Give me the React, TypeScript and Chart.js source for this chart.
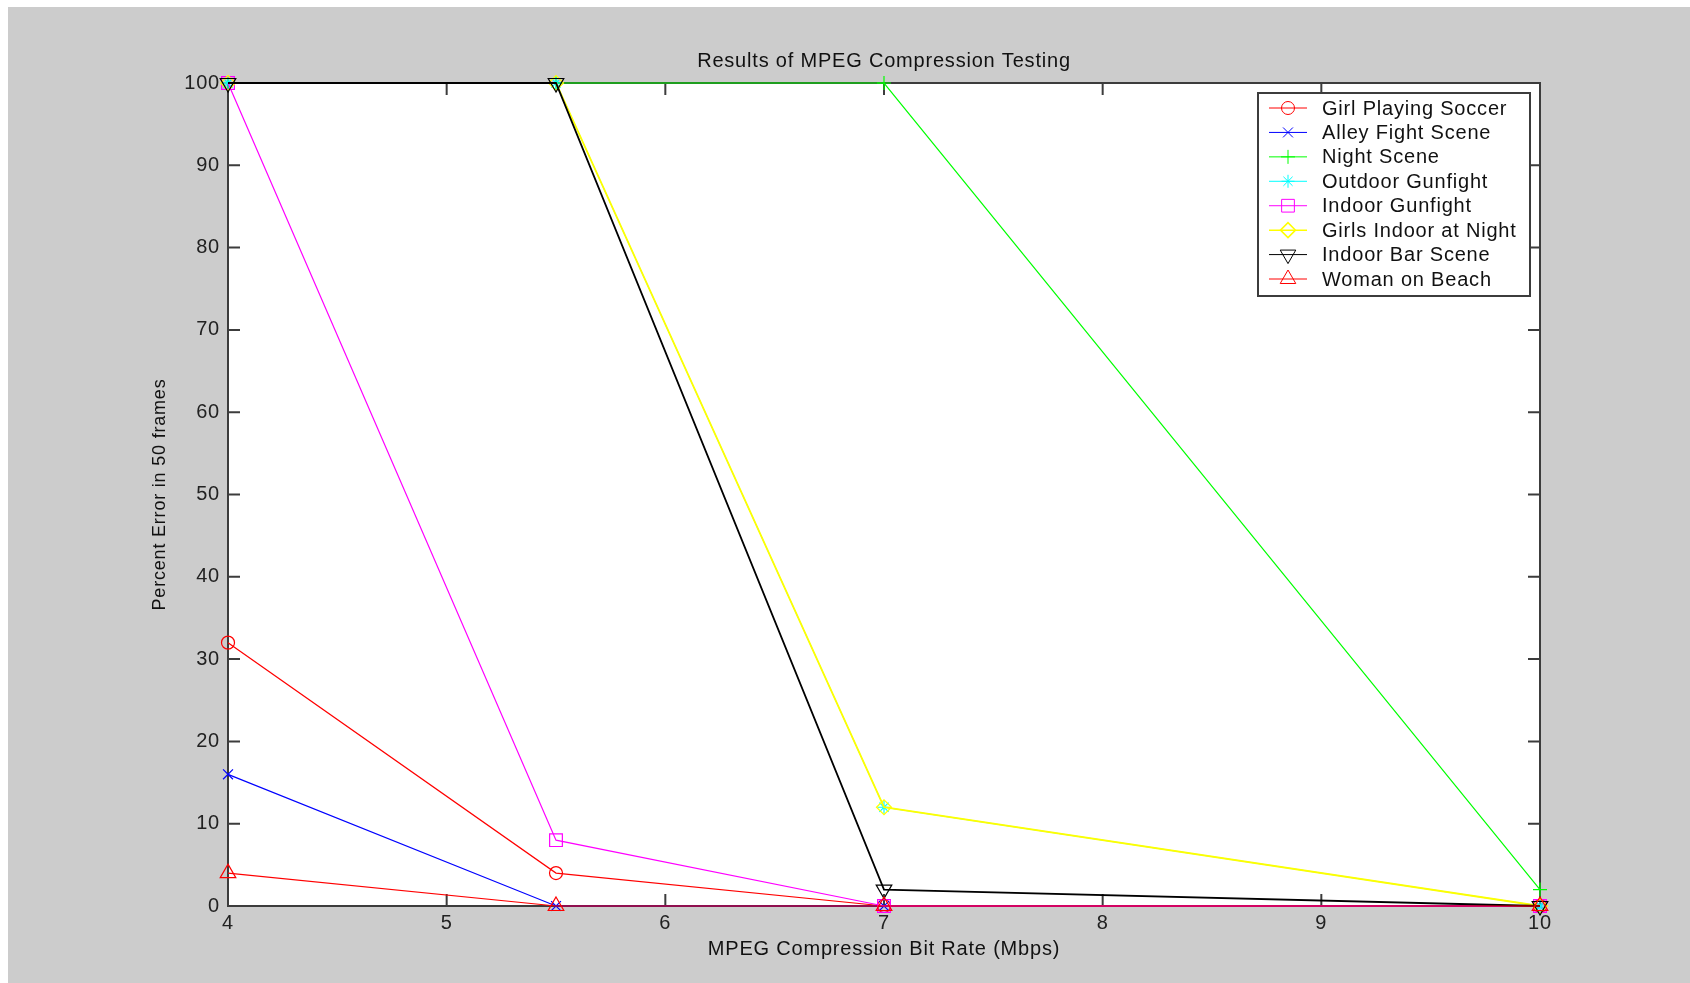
import React, { useEffect, useRef } from 'react';
import { Chart, registerables } from 'chart.js';
import { drawPoint } from 'chart.js/helpers';

Chart.register(...registerables);

// ---------- data ----------
const bitRates = [4, 5.5, 7, 10];
const xTickValues = [4, 5, 6, 7, 8, 9, 10];
const yTickValues = [0, 10, 20, 30, 40, 50, 60, 70, 80, 90, 100];

const seriesNames = [
  'Girl Playing Soccer',
  'Alley Fight Scene',
  'Night Scene',
  'Outdoor Gunfight',
  'Indoor Gunfight',
  'Girls Indoor at Night',
  'Indoor Bar Scene',
  'Woman on Beach',
];

const girlPlayingSoccer = [32, 4, 0, 0];
const alleyFightScene = [16, 0, 0, 0];
const nightScene = [100, 100, 100, 2];
const outdoorGunfight = [100, 100, 12, 0];
const indoorGunfight = [100, 8, 0, 0];
const girlsIndoorAtNight = [100, 100, 12, 0];
const indoorBarScene = [100, 100, 2, 0];
const womanOnBeach = [4, 0, 0, 0];

const seriesValues = [
  girlPlayingSoccer,
  alleyFightScene,
  nightScene,
  outdoorGunfight,
  indoorGunfight,
  girlsIndoorAtNight,
  indoorBarScene,
  womanOnBeach,
];

const titleText = 'Results of MPEG Compression Testing';
const xAxisTitle = 'MPEG Compression Bit Rate (Mbps)';
const yAxisTitle = 'Percent Error in 50 frames';

// ---------- styles ----------
const seriesStyles = [
  { color: '#ff0000', pointStyle: 'circle', radius: 6.5, rotation: 0, width: 1.2 },
  { color: '#0000ff', pointStyle: 'crossRot', radius: 7, rotation: 0, width: 1.2 },
  { color: '#00ff00', pointStyle: 'cross', radius: 7, rotation: 0, width: 1.2 },
  { color: '#00ffff', pointStyle: 'star', radius: 6.5, rotation: 0, width: 1.0 },
  { color: '#ff00ff', pointStyle: 'rect', radius: 9, rotation: 0, width: 1.2 },
  { color: '#ffff00', pointStyle: 'rectRot', radius: 7.5, rotation: 0, width: 1.8 },
  { color: '#000000', pointStyle: 'triangle', radius: 9, rotation: 180, width: 1.8 },
  { color: '#ff0000', pointStyle: 'triangle', radius: 9, rotation: 0, width: 1.2 },
];

const FONT = "'Liberation Sans', Arial, sans-serif";
const AXIS_COLOR = '#3c3c3c';
const TICK_LEN = 12;
const CANVAS_W = 1682;
const CANVAS_H = 976;

const framePlugin = {
  id: 'matlabFrame',
  beforeDraw(chart: any) {
    const { ctx, chartArea: a } = chart;
    ctx.save();
    ctx.fillStyle = '#cccccc';
    ctx.fillRect(0, 0, chart.width, chart.height);
    ctx.fillStyle = '#ffffff';
    ctx.fillRect(a.left, a.top, a.right - a.left, a.bottom - a.top);
    ctx.restore();
    try {
      ctx.letterSpacing = '0.8px';
    } catch (e) {
      /* ignore */
    }
  },
  beforeDatasetsDraw(chart: any) {
    const { ctx, chartArea: a, scales } = chart;
    const xs = scales.x;
    const ys = scales.y;
    ctx.save();
    ctx.strokeStyle = AXIS_COLOR;
    ctx.lineWidth = 2;
    ctx.beginPath();
    xs.ticks.forEach((t: any) => {
      const px = xs.getPixelForValue(t.value);
      ctx.moveTo(px, a.bottom);
      ctx.lineTo(px, a.bottom - TICK_LEN);
      ctx.moveTo(px, a.top);
      ctx.lineTo(px, a.top + TICK_LEN);
    });
    ys.ticks.forEach((t: any) => {
      const py = ys.getPixelForValue(t.value);
      ctx.moveTo(a.left, py);
      ctx.lineTo(a.left + TICK_LEN, py);
      ctx.moveTo(a.right, py);
      ctx.lineTo(a.right - TICK_LEN, py);
    });
    ctx.rect(a.left, a.top, a.right - a.left, a.bottom - a.top);
    ctx.stroke();
    ctx.restore();
  },
  afterDraw(chart: any) {
    const { ctx } = chart;
    const boxL = 1250;
    const boxT = 86;
    const boxR = 1522;
    const boxB = 289;
    const rowY0 = 101;
    const rowGap = 24.43;
    ctx.save();
    ctx.fillStyle = '#ffffff';
    ctx.fillRect(boxL, boxT, boxR - boxL, boxB - boxT);
    ctx.strokeStyle = AXIS_COLOR;
    ctx.lineWidth = 2;
    ctx.strokeRect(boxL, boxT, boxR - boxL, boxB - boxT);
    const datasets = chart.data.datasets;
    datasets.forEach((ds: any, i: number) => {
      const y = rowY0 + i * rowGap;
      const st = seriesStyles[i];
      ctx.strokeStyle = st.color;
      ctx.fillStyle = 'rgba(0,0,0,0)';
      ctx.lineWidth = i === 5 ? 1.5 : 1;
      ctx.beginPath();
      ctx.moveTo(1261, y);
      ctx.lineTo(1299, y);
      ctx.stroke();
      drawPoint(
        ctx,
        {
          pointStyle: st.pointStyle,
          rotation: st.rotation,
          radius: st.radius,
          borderWidth: 1,
        } as any,
        1280,
        y
      );
      ctx.fillStyle = '#111111';
      ctx.font = `20px ${FONT}`;
      ctx.textAlign = 'left';
      ctx.textBaseline = 'middle';
      ctx.fillText(ds.label, 1314, y + 1);
    });
    ctx.restore();
  },
};

export default function App() {
  const canvasRef = useRef<HTMLCanvasElement | null>(null);

  useEffect(() => {
    if (!canvasRef.current) return;
    Chart.defaults.font.family = FONT;

    const datasets = seriesNames.map((name, i) => {
      const st = seriesStyles[i];
      return {
        label: name,
        data: bitRates.map((x, j) => ({ x, y: seriesValues[i][j] })),
        borderColor: st.color,
        backgroundColor: 'rgba(0,0,0,0)',
        borderWidth: st.width,
        pointStyle: st.pointStyle,
        pointRadius: st.radius,
        pointRotation: st.rotation,
        pointBorderColor: st.color,
        pointBackgroundColor: 'rgba(0,0,0,0)',
        pointBorderWidth: 1.2,
        tension: 0,
        fill: false,
        clip: false,
        order: seriesNames.length - i,
      };
    });

    const chart = new Chart(canvasRef.current, {
      type: 'line',
      data: { datasets } as any,
      options: {
        animation: false,
        responsive: false,
        events: [],
        layout: { padding: { left: 0, top: 0, right: 150, bottom: 0 } },
        plugins: {
          legend: { display: false },
          tooltip: { enabled: false },
          title: {
            display: true,
            text: titleText,
            color: '#111111',
            fullSize: false,
            font: { size: 20, weight: 'normal', family: FONT },
            padding: { top: 42, bottom: 10 },
          },
        },
        scales: {
          x: {
            type: 'linear',
            min: 4,
            max: 10,
            afterBuildTicks: (s: any) => {
              s.ticks = xTickValues.map((v) => ({ value: v }));
            },
            afterFit: (s: any) => {
              s.height = CANVAS_H - 899;
            },
            grid: { display: false, drawTicks: false },
            border: { display: false },
            ticks: {
              color: '#222222',
              padding: 5,
              maxRotation: 0,
              font: { size: 20, family: FONT },
              callback: (v: any) => String(v),
            },
            title: {
              display: true,
              text: xAxisTitle,
              color: '#111111',
              font: { size: 20, family: FONT },
              padding: { top: 0, bottom: 22 },
            },
          },
          y: {
            type: 'linear',
            min: 0,
            max: 100,
            afterBuildTicks: (s: any) => {
              s.ticks = yTickValues.map((v) => ({ value: v }));
            },
            afterFit: (s: any) => {
              s.width = 220;
            },
            grid: { display: false, drawTicks: false },
            border: { display: false },
            ticks: {
              color: '#222222',
              padding: 8,
              font: { size: 20, family: FONT },
              callback: (v: any) => String(v),
            },
            title: {
              display: true,
              text: yAxisTitle,
              color: '#111111',
              font: { size: 18, family: FONT, lineHeight: 1.2 },
              padding: { top: 141, bottom: 0 },
            },
          },
        },
      } as any,
      plugins: [framePlugin],
    });

    return () => {
      chart.destroy();
    };
  }, []);

  return (
    <div style={{ position: 'fixed', left: 8, top: 7, width: CANVAS_W, height: CANVAS_H }}>
      <canvas
        ref={canvasRef}
        width={CANVAS_W}
        height={CANVAS_H}
        style={{ display: 'block', width: CANVAS_W, height: CANVAS_H }}
      />
    </div>
  );
}
